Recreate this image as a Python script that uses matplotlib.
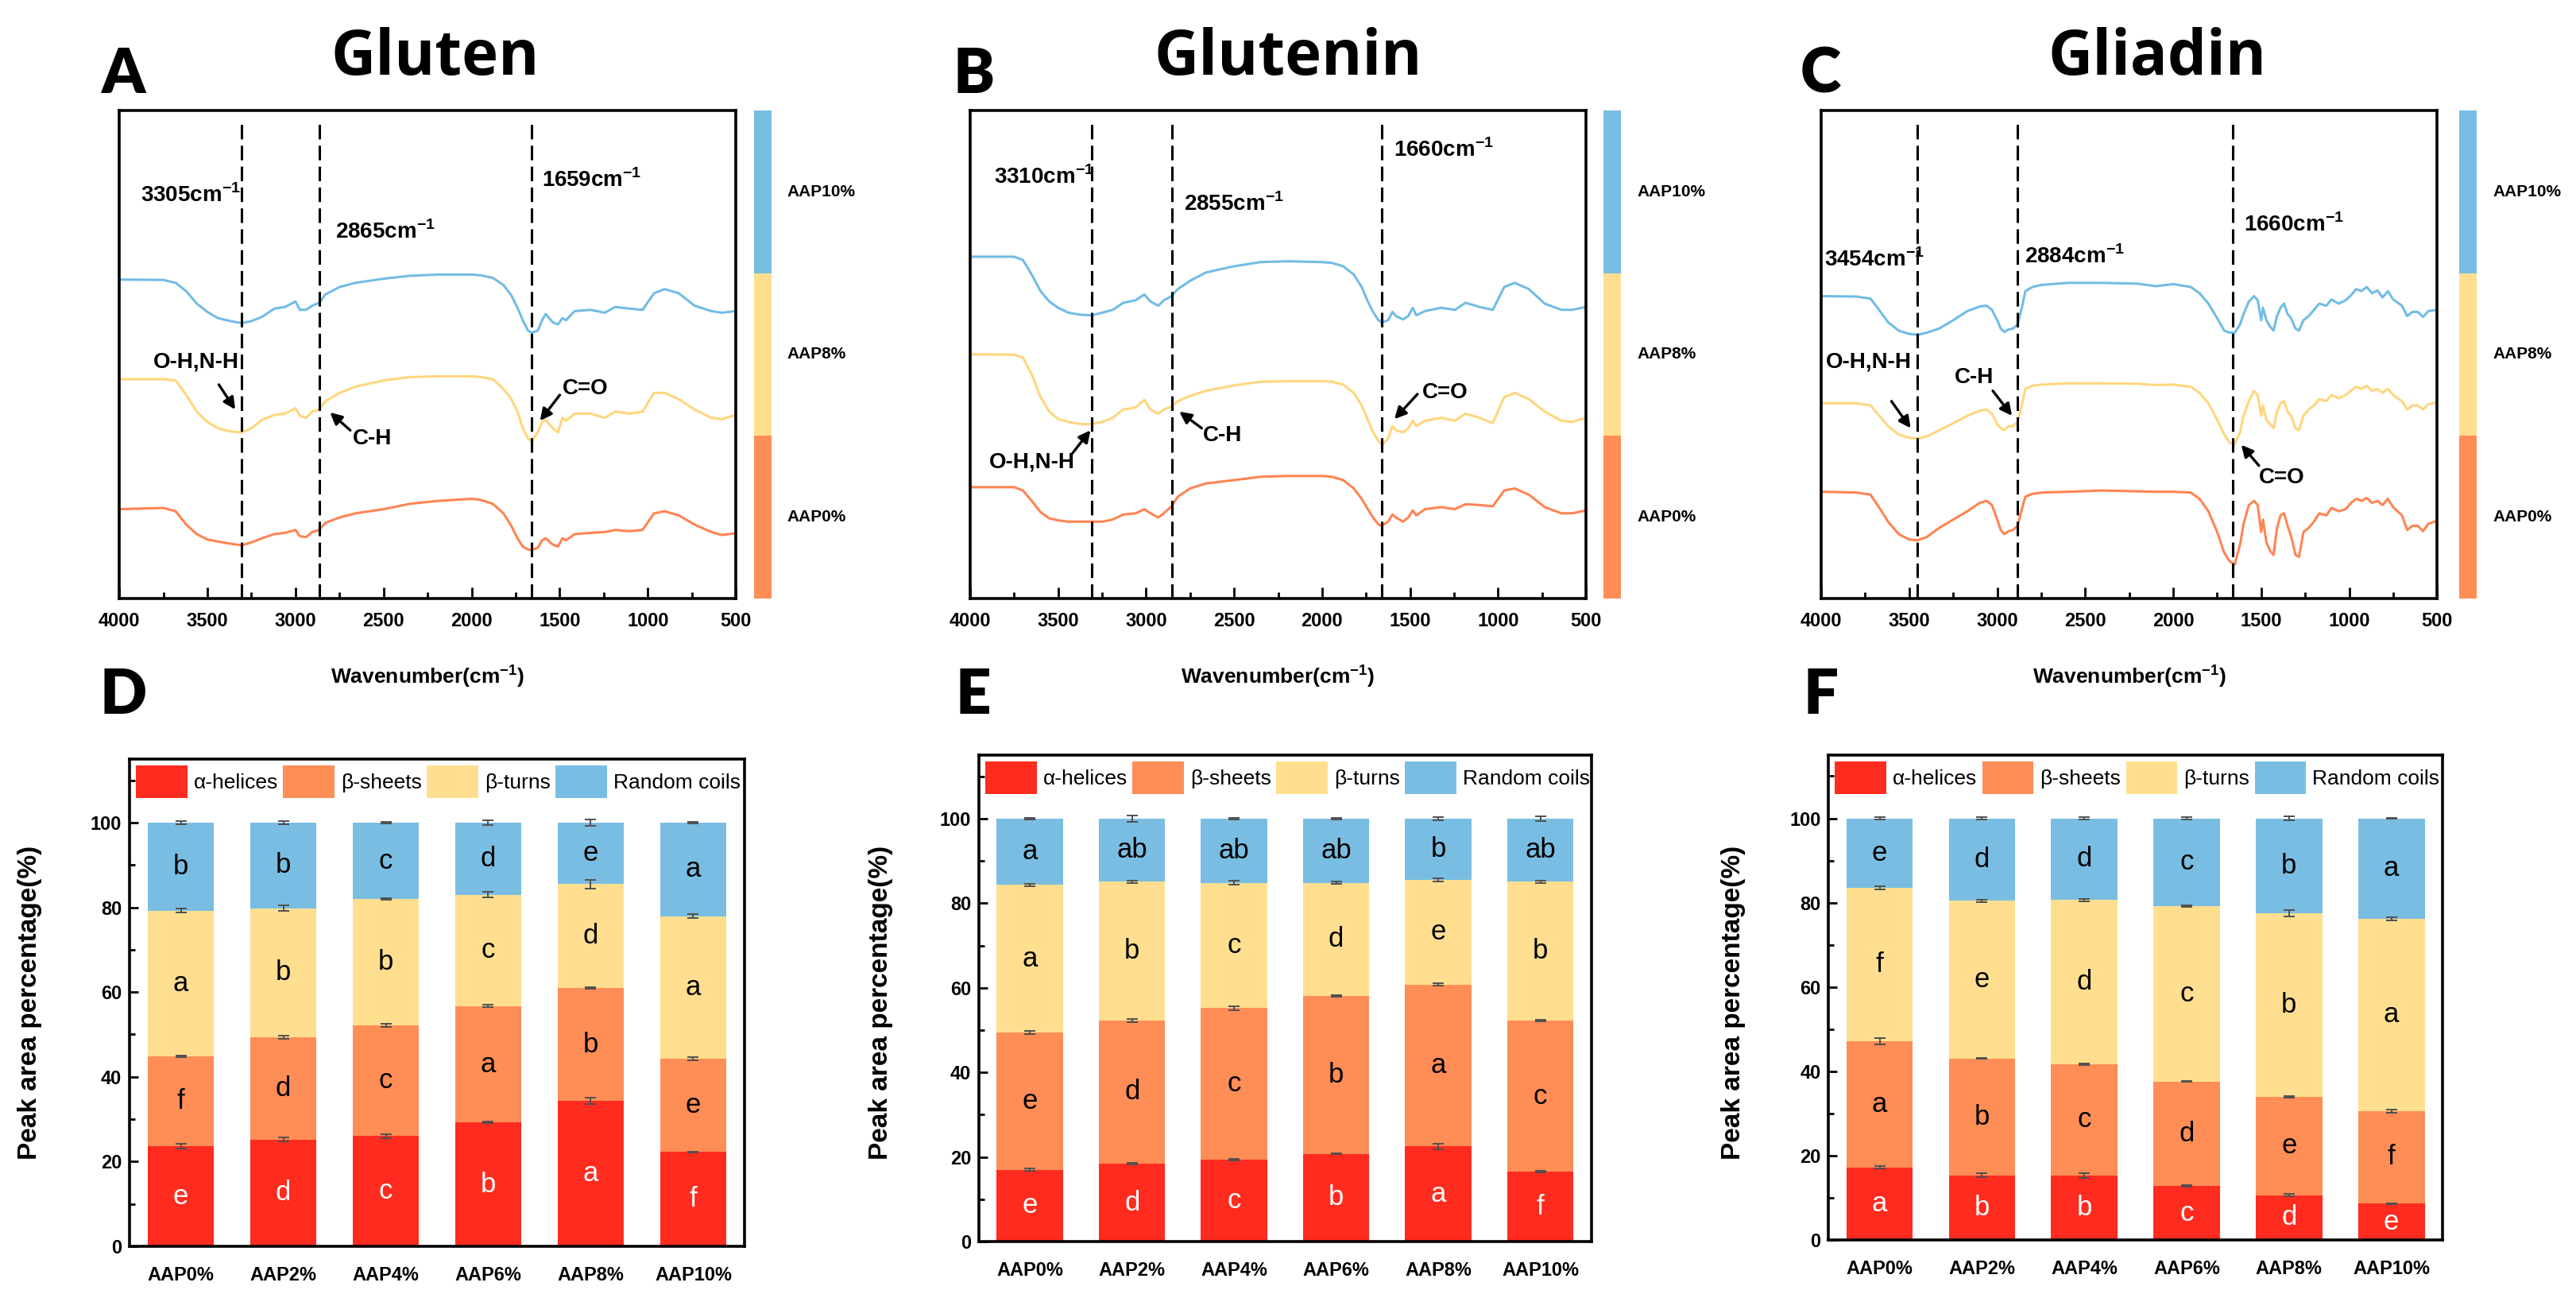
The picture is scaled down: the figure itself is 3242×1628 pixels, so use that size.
import numpy as np
import matplotlib
matplotlib.use("Agg")
import matplotlib.pyplot as plt

SANS = ['Liberation Sans', 'DejaVu Sans']
plt.rcParams['font.family'] = SANS
plt.rcParams['mathtext.fontset'] = 'custom'
plt.rcParams['mathtext.rm'] = 'Liberation Sans:bold'
plt.rcParams['mathtext.bf'] = 'Liberation Sans:bold'

# ---- FTIR spectra (arbitrary offset units) ----
samples = ['AAP10%', 'AAP8%', 'AAP0%']

wn_gluten = [4000, 3750, 3680, 3620, 3560, 3500, 3440, 3370, 3305, 3250,
             3190, 3120, 3060, 3000, 2975, 2940, 2905, 2865, 2830, 2750,
             2660, 2500, 2350, 2190, 2000, 1945, 1880, 1820, 1775, 1740,
             1710, 1680, 1659, 1625, 1600, 1580, 1540, 1510, 1485, 1465,
             1415, 1325, 1245, 1185, 1105, 1030, 965, 905, 825, 735,
             640, 580, 500]
gluten_10 = [76.8, 76.7, 76.0, 74.0, 71.0, 69.0, 67.5, 66.8, 66.3, 66.8,
             67.8, 69.8, 70.2, 71.5, 69.5, 69.5, 70.5, 71.2, 73.2, 75.0,
             76.0, 77.0, 77.7, 78.0, 78.0, 77.8, 77.2, 75.5, 73.0, 70.0,
             67.0, 64.5, 64.0, 64.5, 67.0, 68.5, 66.5, 66.0, 67.5, 67.0,
             69.2, 69.5, 68.8, 70.2, 69.8, 69.5, 73.5, 74.5, 73.5, 70.5,
             69.2, 68.8, 69.2]
gluten_8 = [52.8, 52.8, 52.5, 49.0, 45.0, 42.5, 41.0, 40.2, 40.0, 41.0,
            43.0, 44.2, 44.5, 45.8, 44.0, 43.5, 45.0, 45.5, 47.5, 49.5,
            51.0, 52.5, 53.3, 53.5, 53.5, 53.3, 52.8, 50.5, 48.0, 45.0,
            41.0, 38.5, 37.8, 40.0, 42.5, 43.0, 41.0, 40.0, 43.5, 42.8,
            44.5, 44.5, 43.5, 45.0, 44.5, 45.0, 49.5, 49.5, 48.0, 45.5,
            43.5, 43.2, 44.2]
gluten_0 = [21.5, 21.8, 21.0, 17.8, 15.5, 14.2, 13.7, 13.2, 12.8, 13.5,
            14.5, 15.5, 15.8, 16.5, 15.0, 14.8, 16.0, 16.5, 18.2, 19.5,
            20.5, 21.5, 22.8, 23.5, 24.0, 23.7, 22.8, 20.5, 17.5, 14.5,
            12.5, 11.8, 11.7, 12.2, 14.0, 14.5, 13.0, 12.5, 14.5, 14.0,
            15.5, 15.8, 16.0, 16.5, 16.2, 16.5, 20.5, 21.0, 20.0, 17.8,
            16.0, 15.3, 15.7]

wn_glutenin = [4000, 3750, 3700, 3650, 3600, 3550, 3500, 3440, 3370, 3310,
               3250, 3190, 3130, 3060, 3010, 2975, 2930, 2900, 2855, 2820,
               2750, 2660, 2500, 2350, 2190, 2000, 1945, 1880, 1820, 1775,
               1740, 1710, 1680, 1660, 1625, 1600, 1580, 1540, 1510, 1485,
               1465, 1415, 1325, 1245, 1185, 1105, 1030, 965, 905, 825,
               735, 640, 580, 500]
glutenin_10 = [82.3, 82.3, 81.5, 78.0, 74.0, 71.5, 70.0, 68.8, 68.3, 68.2,
               68.8, 69.5, 71.2, 71.8, 73.2, 71.5, 70.5, 71.8, 72.8, 74.5,
               76.5, 78.5, 80.0, 81.0, 81.2, 81.0, 80.8, 80.0, 78.0, 75.0,
               71.5, 69.0, 67.0, 66.5, 67.0, 69.0, 68.0, 67.2, 68.0, 70.0,
               68.2, 69.2, 70.0, 69.5, 71.2, 70.2, 69.5, 75.0, 76.0, 74.5,
               71.0, 69.5, 69.5, 70.2]
glutenin_8 = [58.8, 58.7, 58.0, 54.0, 48.5, 45.0, 43.2, 42.5, 42.0, 42.0,
              42.5, 43.5, 45.5, 46.0, 47.8, 45.5, 44.5, 45.5, 46.2, 47.5,
              48.8, 50.0, 51.3, 52.2, 52.3, 52.3, 52.2, 51.5, 49.5, 46.5,
              43.0, 40.0, 38.0, 37.0, 38.5, 41.5, 40.5, 40.0, 41.0, 42.8,
              41.5, 42.8, 43.5, 42.8, 44.5, 43.5, 42.2, 48.5, 49.5, 48.0,
              45.0, 42.8, 42.5, 43.5]
glutenin_0 = [26.8, 26.8, 26.0, 23.5, 20.8, 19.3, 18.8, 18.5, 18.5, 18.5,
              18.5, 19.0, 20.2, 20.5, 21.5, 20.5, 19.5, 20.5, 22.2, 24.5,
              26.5, 27.7, 28.5, 29.3, 29.5, 29.5, 29.3, 28.5, 26.5, 24.0,
              21.5, 19.5, 17.8, 17.5, 18.5, 20.2, 19.5, 18.5, 19.5, 21.2,
              20.0, 21.5, 22.0, 21.5, 22.7, 22.5, 22.2, 26.0, 26.5, 25.0,
              22.0, 20.5, 20.5, 21.2]

wn_gliadin = [4000, 3800, 3720, 3680, 3620, 3560, 3500, 3454, 3400, 3330,
              3250, 3170, 3100, 3060, 3030, 3000, 2980, 2960, 2935, 2910,
              2884, 2860, 2840, 2800, 2750, 2600, 2400, 2200, 2100, 2000,
              1900, 1850, 1800, 1750, 1710, 1680, 1650, 1620, 1600, 1570,
              1540, 1520, 1500, 1490, 1470, 1450, 1430, 1410, 1390, 1370,
              1350, 1330, 1305, 1285, 1260, 1230, 1200, 1170, 1130, 1100,
              1060, 1020, 990, 960, 930, 900, 870, 840, 810, 780,
              750, 700, 670, 640, 610, 580, 550, 500]
gliadin_10 = [72.8, 72.7, 72.2, 70.0, 66.5, 64.5, 63.7, 63.5, 64.0, 65.0,
              67.0, 69.2, 70.3, 70.5, 69.5, 67.0, 65.0, 64.2, 64.8, 65.0,
              66.0, 70.0, 74.0, 75.0, 75.5, 76.0, 76.0, 75.8, 75.2, 75.7,
              75.0, 73.5, 71.0, 67.5, 64.5, 64.0, 64.0, 66.0, 68.5, 71.5,
              72.8, 71.8, 67.0, 70.0, 67.0, 65.5, 64.5, 68.0, 70.0, 71.0,
              68.5, 67.5, 65.0, 64.5, 67.0, 68.0, 69.5, 71.0, 70.5, 72.0,
              71.0, 71.8, 73.0, 74.5, 74.0, 75.0, 73.5, 74.2, 72.5, 74.0,
              72.0, 70.5, 68.0, 69.0, 69.0, 67.8, 69.2, 69.5]
gliadin_8 = [47.0, 47.0, 46.5, 44.5, 41.5, 39.5, 38.7, 38.5, 39.0, 40.5,
             42.2, 44.0, 45.2, 45.5, 44.5, 42.0, 41.0, 40.5, 41.5, 41.5,
             42.5, 46.5, 50.5, 51.2, 51.5, 51.8, 51.8, 51.7, 51.4, 51.5,
             51.0, 49.5, 47.0, 43.0, 39.5, 37.5, 37.2, 40.0, 44.0, 47.5,
             50.0, 49.0, 44.0, 46.5, 43.0, 42.0, 41.0, 45.0, 47.0, 47.5,
             45.0, 44.0, 41.0, 40.5, 44.0, 45.5, 46.5, 48.0, 47.5, 49.0,
             48.2, 49.0, 50.0, 51.0, 50.5, 51.2, 50.0, 50.5, 49.5, 50.5,
             49.0, 47.5, 45.5, 46.5, 46.5, 45.5, 46.8, 47.2]
gliadin_0 = [25.7, 25.5, 25.0, 22.5, 18.5, 15.5, 14.2, 14.0, 14.8, 17.0,
             19.0, 21.0, 23.0, 23.5, 22.5, 19.0, 16.5, 15.5, 16.2, 16.5,
             17.5, 21.5, 24.5, 25.2, 25.5, 25.7, 26.0, 25.8, 25.7, 25.7,
             25.5, 24.0, 21.0, 16.0, 11.0, 9.0, 8.2, 13.0, 18.0, 22.5,
             23.5, 22.5, 16.0, 19.0, 13.5, 11.5, 10.5, 17.0, 20.0, 20.5,
             17.5, 15.0, 10.5, 10.0, 16.0, 17.0, 18.5, 20.5, 20.0, 21.8,
             21.0, 21.5, 23.0, 24.0, 23.5, 24.2, 23.0, 23.5, 22.5, 24.0,
             22.0, 20.0, 16.5, 17.5, 17.5, 16.2, 18.0, 18.7]

peaks_gluten = [3305, 2865, 1659]
peaks_glutenin = [3310, 2855, 1660]
peaks_gliadin = [3454, 2884, 1660]

# ---- secondary structure (peak area %) ----
groups = ['AAP0%', 'AAP2%', 'AAP4%', 'AAP6%', 'AAP8%', 'AAP10%']
structures = ['α-helices', 'β-sheets', 'β-turns', 'Random coils']

gluten_ss = [[23.6, 25.2, 26.0, 29.2, 34.3, 22.3],
             [21.3, 24.1, 26.1, 27.5, 26.6, 22.0],
             [34.3, 30.5, 29.8, 26.3, 24.6, 33.6],
             [20.8, 20.2, 18.1, 17.0, 14.5, 22.1]]
gluten_err = [[0.6, 0.4, 0.5, 0.2, 0.7, 0.1],
              [0.2, 0.4, 0.4, 0.3, 0.2, 0.4],
              [0.5, 0.6, 0.2, 0.7, 1.0, 0.5],
              [0.4, 0.3, 0.2, 0.6, 0.7, 0.2]]
gluten_sig = [['e', 'd', 'c', 'b', 'a', 'f'],
              ['f', 'd', 'c', 'a', 'b', 'e'],
              ['a', 'b', 'b', 'c', 'd', 'a'],
              ['b', 'b', 'c', 'd', 'e', 'a']]

glutenin_ss = [[17.0, 18.4, 19.4, 20.7, 22.5, 16.5],
               [32.4, 33.9, 35.8, 37.4, 38.3, 35.8],
               [34.9, 32.8, 29.6, 26.7, 24.7, 32.8],
               [15.7, 14.9, 15.2, 15.2, 14.5, 14.9]]
glutenin_err = [[0.3, 0.2, 0.2, 0.1, 0.6, 0.2],
                [0.4, 0.4, 0.5, 0.2, 0.2, 0.2],
                [0.2, 0.3, 0.5, 0.3, 0.3, 0.3],
                [0.2, 0.7, 0.2, 0.2, 0.3, 0.5]]
glutenin_sig = [['e', 'd', 'c', 'b', 'a', 'f'],
                ['e', 'd', 'c', 'b', 'a', 'c'],
                ['a', 'b', 'c', 'd', 'e', 'b'],
                ['a', 'ab', 'ab', 'ab', 'b', 'ab']]

gliadin_ss = [[17.2, 15.3, 15.3, 12.8, 10.6, 8.6],
              [29.9, 27.7, 26.4, 24.8, 23.4, 22.0],
              [36.4, 37.4, 38.9, 41.5, 43.5, 45.6],
              [16.5, 19.6, 19.4, 20.9, 22.5, 23.8]]
gliadin_err = [[0.3, 0.5, 0.6, 0.2, 0.3, 0.1],
               [0.7, 0.1, 0.2, 0.1, 0.2, 0.4],
               [0.4, 0.2, 0.3, 0.2, 0.7, 0.4],
               [0.2, 0.2, 0.2, 0.2, 0.4, 0.1]]
gliadin_sig = [['a', 'b', 'b', 'c', 'd', 'e'],
               ['a', 'b', 'c', 'd', 'e', 'f'],
               ['f', 'e', 'd', 'c', 'b', 'a'],
               ['e', 'd', 'd', 'c', 'b', 'a']]

bar_colors = ['#FF2B1F', '#FF8D56', '#FFDF8F', '#79BEE2']
line_colors = {'AAP10%': '#72BCE5', 'AAP8%': '#FFD67D', 'AAP0%': '#FF8452'}
cbar_colors = ['#FF8D56', '#FFDF8F', '#79BEE2']   # bottom -> top

fig = plt.figure(figsize=(16.21, 8.14), dpi=200)


def bold_ticks(ax, size):
    for lab in ax.get_xticklabels() + ax.get_yticklabels():
        lab.set_fontweight('bold')
        lab.set_fontsize(size)


def draw_spectrum(rect, cb_rect, wn, curves, peaks, notes, arrows):
    ax = fig.add_axes(rect)
    for name, y in zip(samples, curves):
        ax.plot(wn, y, color=line_colors[name], lw=1.1, zorder=2)
    for p in peaks:
        ax.axvline(p, ymin=0, ymax=0.983, color='k', lw=1.1,
                   dashes=(6, 2.6), zorder=3)
    for txt, x, y in notes:
        ax.text(x, y, txt, ha='left', va='center', fontsize=10,
                fontweight='bold')
    for tail, head in arrows:
        ax.annotate('', xy=head, xytext=tail,
                    arrowprops=dict(arrowstyle='-|>', color='k', lw=1.2,
                                    mutation_scale=11, shrinkA=0, shrinkB=0))
    ax.set_xlim(4000, 500)
    ax.set_ylim(0, 117.5)
    ax.set_xticks(np.arange(4000, 499, -500))
    ax.set_xticks(np.arange(3750, 500, -500), minor=True)
    ax.set_yticks([])
    ax.tick_params(axis='x', which='major', direction='in', length=5,
                   width=1.0, pad=6)
    ax.tick_params(axis='x', which='minor', direction='in', length=2.8,
                   width=1.0)
    for s in ax.spines.values():
        s.set_linewidth(1.3)
    bold_ticks(ax, 8.5)
    ax.set_xlabel('Wavenumber(cm$^{-1}$)', fontsize=9.5, fontweight='bold',
                  labelpad=15)

    cax = fig.add_axes(cb_rect)
    cax.bar([0, 0, 0], [1, 1, 1], width=1, bottom=[0, 1, 2],
            color=cbar_colors)
    cax.set_xlim(-0.5, 0.5)
    cax.set_ylim(0, 3)
    cax.axis('off')
    for i, name in enumerate(samples[::-1]):
        cax.text(1.9, i + 0.5, name, transform=cax.get_yaxis_transform(),
                 ha='left', va='center', fontsize=7.5, fontweight='bold')
    return ax


def draw_bars(rect, vals, errs, sig):
    ax = fig.add_axes(rect)
    x = np.arange(len(groups))
    bottom = np.zeros(len(groups))
    for i, name in enumerate(structures):
        v = np.array(vals[i])
        ax.bar(x, v, 0.65, bottom=bottom, color=bar_colors[i], label=name,
               zorder=2)
        top = bottom + v
        ax.errorbar(x, top, yerr=errs[i], fmt='none', ecolor='#505050',
                    elinewidth=0.7, capsize=2.5, capthick=0.7, zorder=3)
        for xi, b, h, t in zip(x, bottom, v, sig[i]):
            ax.text(xi, b + h / 2, t, ha='center', va='center', fontsize=12.5,
                    color='white' if i == 0 else 'black', zorder=4)
        bottom = top
    ax.set_xlim(-0.5, len(groups) - 0.5)
    ax.set_ylim(0, 115)
    ax.set_xticks(x)
    ax.set_xticklabels(groups)
    ax.set_yticks(np.arange(0, 101, 20))
    ax.set_yticks(np.arange(10, 111, 20), minor=True)
    ax.tick_params(axis='x', length=0, pad=9)
    ax.tick_params(axis='y', which='major', direction='in', length=4,
                   width=1.0)
    ax.tick_params(axis='y', which='minor', direction='in', length=2.5,
                   width=1.0)
    for s in ax.spines.values():
        s.set_linewidth(1.3)
    bold_ticks(ax, 8.5)
    ax.legend(loc='upper left', bbox_to_anchor=(0.0, 1.0), ncol=4,
              frameon=False, fontsize=9.5, handlelength=2.45,
              handleheight=2.0, handletextpad=0.3, columnspacing=0.25,
              borderaxespad=0.1, borderpad=0.2)
    return ax


# ---- top row ----
draw_spectrum([0.0463, 0.5375, 0.2394, 0.3771], [0.2927, 0.5375, 0.0068, 0.3771],
              wn_gluten, [gluten_10, gluten_8, gluten_0], peaks_gluten,
              [('3305cm$^{-1}$', 3880, 97.0), ('2865cm$^{-1}$', 2773, 88.3),
               ('1659cm$^{-1}$', 1603, 100.8), ('O-H,N-H', 3807, 57.0),
               ('C-H', 2674, 38.5), ('C=O', 1484, 50.5)],
              [((3435, 51.5), (3342, 45.5)), ((2689, 40.5), (2804, 44.8)),
               ((1500, 49.0), (1612, 42.8))])
draw_spectrum([0.3766, 0.5375, 0.2391, 0.3771], [0.6225, 0.5375, 0.0068, 0.3771],
              wn_glutenin, [glutenin_10, glutenin_8, glutenin_0], peaks_glutenin,
              [('3310cm$^{-1}$', 3866, 101.5), ('2855cm$^{-1}$', 2787, 95.0),
               ('1660cm$^{-1}$', 1595, 108.0), ('O-H,N-H', 3891, 32.8),
               ('C-H', 2678, 39.2), ('C=O', 1433, 49.5)],
              [((3418, 35.0), (3316, 40.5)), ((2684, 41.0), (2811, 45.0)),
               ((1458, 49.2), (1589, 43.2))])
draw_spectrum([0.7070, 0.5375, 0.2391, 0.3771], [0.9547, 0.5375, 0.0068, 0.3771],
              wn_gliadin, [gliadin_10, gliadin_8, gliadin_0], peaks_gliadin,
              [('3454cm$^{-1}$', 3981, 81.5), ('2884cm$^{-1}$', 2844, 82.3),
               ('1660cm$^{-1}$', 1600, 90.0), ('O-H,N-H', 3975, 57.0),
               ('C-H', 3243, 53.2), ('C=O', 1513, 29.0)],
              [((3601, 47.5), (3492, 41.0)), ((3025, 50.0), (2916, 44.0)),
               ((1513, 32.0), (1613, 37.0))])

# ---- bottom row ----
draw_bars([0.0503, 0.0369, 0.2387, 0.3765], gluten_ss, gluten_err, gluten_sig)
draw_bars([0.3800, 0.0405, 0.2378, 0.3759], glutenin_ss, glutenin_err, glutenin_sig)
draw_bars([0.7098, 0.0418, 0.2384, 0.3747], gliadin_ss, gliadin_err, gliadin_sig)

for x in [0.0117, 0.342, 0.673]:
    fig.text(x, 0.225, 'Peak area percentage(%)', rotation=90, ha='center',
             va='center', fontsize=12, fontweight='bold')

# titles and panel letters
for x, t in [(0.169, 'Gluten'), (0.500, 'Glutenin'), (0.8374, 'Gliadin')]:
    fig.text(x, 0.955, t, ha='center', va='center', fontsize=28,
             fontweight='bold', family=['Open Sans', 'DejaVu Sans'])
for x, y, t in [(0.0478, 0.942, 'A'), (0.3779, 0.942, 'B'), (0.7067, 0.942, 'C'),
                (0.0478, 0.462, 'D'), (0.3779, 0.462, 'E'), (0.7067, 0.462, 'F')]:
    fig.text(x, y, t, ha='center', va='center', fontsize=28,
             fontweight='heavy', family=['Lato', 'DejaVu Sans'])

fig.savefig('out.png', dpi=200)
